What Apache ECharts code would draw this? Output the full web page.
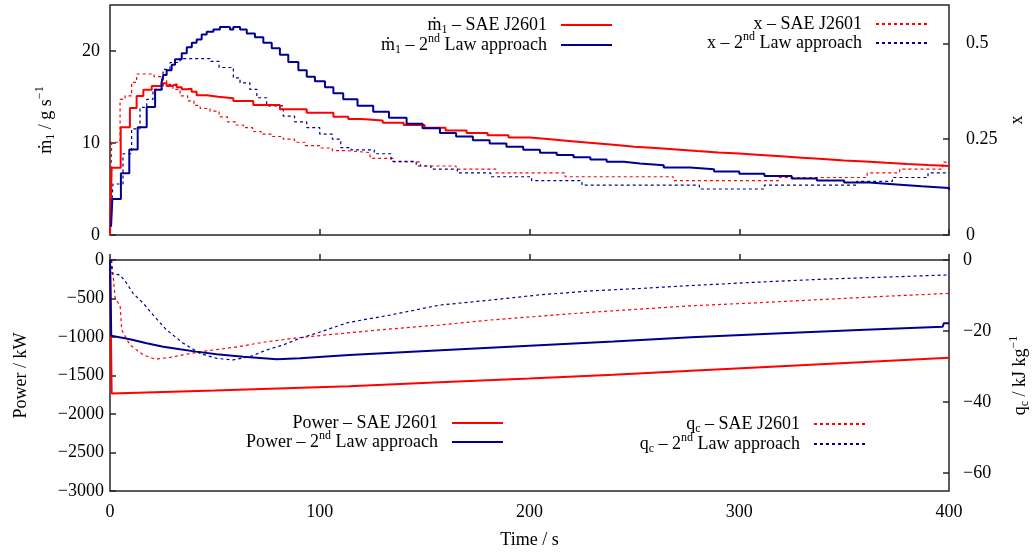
<!DOCTYPE html>
<html><head><meta charset="utf-8">
<script src="https://cdn.jsdelivr.net/npm/echarts@6/dist/echarts.min.js"></script>
<style>html,body{margin:0;padding:0;background:#fff}#c{width:1034px;height:553px}</style>
</head><body><div id="c"></div>
<script>
// ---- tick labels ----
const timeTicks = [0, 100, 200, 300, 400];
const m1Ticks = [0, 10, 20];
const xTicks = [0, 0.25, 0.5];
const powerTicks = [0, -500, -1000, -1500, -2000, -2500, -3000];
const qcTicks = [0, -20, -40, -60];

// ---- top panel: mass flow (g/s) ----
const tM1Sae = [0, 0.8, 5.1, 9.5, 12.7, 15.9, 19.9, 24.6, 27, 29.4, 31.8, 34.2, 36.6, 38.9, 41.3, 46.1, 51.6, 58.8, 68.3, 81, 93.8, 106.5, 113.6, 120, 130, 140, 150, 160, 170, 180, 190, 200, 210, 220, 230, 240, 250, 260, 270, 280, 290, 300, 310, 320, 330, 340, 350, 360, 370, 380, 390, 400];
const m1Sae = [0, 7.3, 11.7, 13.8, 15.1, 15.8, 16.2, 16.5, 16.2, 16.4, 16.05, 15.83, 15.9, 15.58, 15.2, 15.03, 14.86, 14.57, 14.13, 13.66, 13.3, 12.86, 12.6, 12.45, 12.2, 11.95, 11.65, 11.35, 11.1, 10.85, 10.6, 10.4, 10.2, 10.0, 9.8, 9.6, 9.45, 9.3, 9.13, 8.98, 8.85, 8.7, 8.55, 8.4, 8.25, 8.1, 8.0, 7.85, 7.72, 7.6, 7.5, 7.42];

const tM1Law = [0.5, 1.1, 5.2, 9.2, 13.2, 17.5, 21.5, 24.6, 25.4, 27, 29.4, 31, 34.2, 36.6, 39, 41.3, 43.7, 46.1, 49.3, 52.4, 55.6, 57.2, 58.8, 62, 65.2, 69.1, 73.1, 77.1, 81, 85, 89.8, 93.8, 97.7, 102.5, 106.5, 111.2, 118, 125.5, 133, 141.4, 149, 157.3, 165, 173, 181, 189, 197, 205, 213, 221, 229, 236.8, 245, 252.7, 264, 276.5, 288, 300, 312, 325, 337, 350, 362, 375, 387, 400];
const m1Law = [0.9, 3.9, 6.7, 9.3, 11.7, 13.9, 15.8, 16.6, 17.4, 17.9, 18.5, 19.1, 19.75, 20.4, 20.9, 21.25, 21.8, 22.1, 22.35, 22.6, 22.6, 22.35, 22.6, 22.35, 21.9, 21.5, 20.9, 20.3, 19.6, 18.8, 17.9, 17.2, 16.7, 16.05, 15.4, 14.75, 14.05, 13.4, 12.75, 12.1, 11.6, 11.1, 10.7, 10.3, 9.95, 9.6, 9.27, 8.95, 8.7, 8.45, 8.2, 7.97, 7.77, 7.57, 7.35, 7.14, 6.9, 6.65, 6.4, 6.15, 5.92, 5.7, 5.5, 5.3, 5.1, 4.9];

// ---- top panel: vapour quality x ----
const tXSae = [0, 0.8, 4.8, 7.2, 10.3, 12.7, 21, 24.6, 27, 30, 33.4, 37, 40, 43, 47.7, 52, 56, 60, 63.6, 68, 72, 77, 82.6, 88, 93, 100, 106, 113, 124, 135, 148, 165, 184, 217, 268.5, 319, 361, 376.5, 397, 400];
const xSae = [0, 0.242, 0.354, 0.363, 0.398, 0.42, 0.413, 0.403, 0.393, 0.38, 0.363, 0.35, 0.338, 0.33, 0.323, 0.308, 0.295, 0.287, 0.28, 0.27, 0.263, 0.257, 0.25, 0.242, 0.233, 0.227, 0.22, 0.215, 0.2, 0.191, 0.18, 0.172, 0.162, 0.152, 0.142, 0.15, 0.162, 0.172, 0.19, 0.19];

const tXLaw = [0.5, 1.4, 6.2, 10.3, 14.3, 17.5, 20.5, 25.3, 28.6, 33.4, 43, 47.7, 52, 58.8, 62, 66.7, 70, 74.7, 82.6, 88, 93.8, 100, 106, 110, 115, 126, 134, 146, 153, 165.6, 181.5, 201, 225, 281, 312, 356, 373, 390, 400];
const xLaw = [0.033, 0.133, 0.212, 0.277, 0.333, 0.354, 0.38, 0.432, 0.45, 0.46, 0.46, 0.453, 0.437, 0.41, 0.397, 0.38, 0.358, 0.337, 0.31, 0.295, 0.28, 0.263, 0.25, 0.228, 0.222, 0.212, 0.192, 0.18, 0.172, 0.162, 0.152, 0.142, 0.13, 0.12, 0.13, 0.14, 0.15, 0.162, 0.162];

// ---- bottom panel: power (kW) ----
const tPowSae = [0, 0.8, 50, 114, 160, 200, 240, 277, 320, 360, 400];
const powSae = [0, -1735, -1695, -1640, -1585, -1540, -1490, -1437, -1380, -1325, -1268];

const tPowLaw = [0, 0.6, 9.5, 17.5, 25.4, 33.4, 41, 50.9, 63.5, 79.5, 90.6, 114, 160, 200, 240, 277, 320, 360, 397, 397.5, 400];
const powLaw = [0, -985, -1030, -1082, -1126, -1160, -1190, -1225, -1255, -1290, -1277, -1234, -1170, -1113, -1058, -1004, -952, -905, -866, -822, -822];

// ---- bottom panel: q_c (kJ/kg) ----
const tQcSae = [0.8, 2.5, 4.8, 5.6, 9.5, 15.9, 21.5, 28.6, 43, 58.8, 74.7, 90.6, 113.6, 133.5, 157, 181, 205, 229, 253, 276.5, 310, 340, 370, 400];
const qcSae = [0, -11, -12.7, -19.7, -23.9, -26.7, -27.9, -27.4, -25.8, -24.6, -23, -21.8, -20.5, -19.4, -18.3, -16.9, -15.8, -14.7, -13.8, -12.9, -12.0, -11.1, -10.2, -9.4];

const tQcLaw = [0.5, 1, 4.8, 8, 11, 15.9, 20.6, 27, 34.9, 43, 50.9, 58.8, 66.7, 74.7, 82.6, 90.6, 98.5, 113.5, 133.5, 157, 181, 205, 229, 253, 276.5, 310, 340, 370, 400];
const qcLaw = [0, -3.8, -4.2, -6.6, -9.4, -12.2, -15.5, -19.7, -23.4, -26.3, -27.7, -28.1, -27.2, -25.3, -23.9, -22, -20.6, -17.6, -15.5, -12.7, -11.3, -9.8, -8.7, -8.0, -7.2, -6.2, -5.4, -4.8, -4.2];

// ---- names ----
const N_M1_SAE = 'ṁ1 – SAE J2601', N_M1_LAW = 'ṁ1 – 2nd Law approach';
const N_X_SAE = 'x – SAE J2601', N_X_LAW = 'x – 2nd Law approach';
const N_P_SAE = 'Power – SAE J2601', N_P_LAW = 'Power – 2nd Law approach';
const N_Q_SAE = 'qc – SAE J2601', N_Q_LAW = 'qc – 2nd Law approach';

const FONT = 'Liberation Serif';
const RED = '#ff0000', BLUE = '#00008f', FRAME = '#262626';
const rich = {
  sub: { fontFamily: FONT, fontSize: 12, color: '#000', padding: [10, 0, 0, 0], lineHeight: 20 },
  sup: { fontFamily: FONT, fontSize: 12, color: '#000', padding: [0, 0, 12, 0], lineHeight: 20 },
  g: { width: 9, lineHeight: 20 }
};
const zip = (t, v) => t.map((x, i) => [x, v[i]]);
const minus = v => String(v).replace('-', '−');
const fmt = name => name.replace('ṁ1', 'ṁ{sub|1}').replace('qc', 'q{sub|c}').replace('2nd', '2{sup|nd}') + '{g| }';

function legend(data, right, top) {
  return {
    data, orient: 'vertical', align: 'right', right, top, padding: 0, itemGap: -3,
    itemWidth: 51, itemHeight: 14, selectedMode: false, formatter: fmt,
    itemStyle: { opacity: 0 },
    textStyle: { fontFamily: FONT, fontSize: 18, color: '#000', lineHeight: 20, rich }
  };
}
const tickStyle = { color: FRAME, width: 1.5 };
const labelStyle = { fontFamily: FONT, fontSize: 18, color: '#000' };
const nameStyle = { fontFamily: FONT, fontSize: 18, color: '#000', rich };

function yAxis(grid, pos, min, max, ticks, name, gap, margin) {
  return {
    type: 'value', gridIndex: grid, position: pos, min, max,
    name, nameLocation: 'middle', nameRotate: 90, nameGap: gap, nameTextStyle: nameStyle,
    axisLine: { show: false }, splitLine: { show: false },
    axisTick: { inside: true, length: 6, customValues: ticks, lineStyle: tickStyle },
    axisLabel: { customValues: ticks, margin, formatter: minus, ...labelStyle }
  };
}
function line(name, xi, yi, t, v, color, dotted, step) {
  return {
    type: 'line', name, xAxisIndex: xi, yAxisIndex: yi, data: zip(t, v), step: step ? 'end' : false,
    symbol: 'none', showSymbol: false, animation: false,
    itemStyle: { color },
    lineStyle: dotted ? { color, width: 1.2, type: [3, 3] } : { color, width: 2 }
  };
}

const chart = echarts.init(document.getElementById('c'), null, { renderer: 'canvas' });
chart.setOption({
  backgroundColor: '#fff',
  animation: false,
  grid: [
    { left: 110, right: 85, top: 5, height: 230, outerBoundsMode: 'none', containLabel: false, show: true, borderColor: FRAME, borderWidth: 1.5, backgroundColor: 'transparent' },
    { left: 110, right: 85, top: 260, height: 231, outerBoundsMode: 'none', containLabel: false, show: true, borderColor: FRAME, borderWidth: 1.5, backgroundColor: 'transparent' }
  ],
  xAxis: [
    { type: 'value', gridIndex: 0, min: 0, max: 400, axisLine: { show: false }, splitLine: { show: false },
      axisTick: { inside: true, length: 6, customValues: timeTicks, lineStyle: tickStyle }, axisLabel: { show: false } },
    { type: 'value', gridIndex: 1, min: 0, max: 400, axisLine: { show: false }, splitLine: { show: false },
      axisTick: { inside: true, length: 6, customValues: timeTicks, lineStyle: tickStyle },
      axisLabel: { customValues: timeTicks, margin: 12, ...labelStyle },
      name: 'Time / s', nameLocation: 'middle', nameGap: 40, nameTextStyle: nameStyle }
  ],
  yAxis: [
    yAxis(0, 'left', 0, 25, m1Ticks, 'ṁ{sub|1} / g s{sup|−1}', 54, 10),
    yAxis(0, 'right', 0, 0.6, xTicks, 'x', 47, 17),
    yAxis(1, 'left', -3000, 0, powerTicks, 'Power / kW', 80, 6),
    yAxis(1, 'right', -65, 0, qcTicks, 'q{sub|c} / kJ kg{sup|−1}', 61, 14)
  ],
  legend: [
    legend([N_M1_SAE, N_M1_LAW], 421, 14),
    legend([N_X_SAE, N_X_LAW], 106, 14),
    legend([N_P_SAE, N_P_LAW], 530, 413),
    legend([N_Q_SAE, N_Q_LAW], 168, 413)
  ],
  series: [
    line(N_X_SAE, 0, 1, tXSae, xSae, RED, true, true),
    line(N_X_LAW, 0, 1, tXLaw, xLaw, BLUE, true, true),
    line(N_M1_SAE, 0, 0, tM1Sae, m1Sae, RED, false, true),
    line(N_M1_LAW, 0, 0, tM1Law, m1Law, BLUE, false, true),
    line(N_Q_SAE, 1, 3, tQcSae, qcSae, RED, true, false),
    line(N_Q_LAW, 1, 3, tQcLaw, qcLaw, BLUE, true, false),
    line(N_P_SAE, 1, 2, tPowSae, powSae, RED, false, false),
    line(N_P_LAW, 1, 2, tPowLaw, powLaw, BLUE, false, false)
  ]
});
</script></body></html>
